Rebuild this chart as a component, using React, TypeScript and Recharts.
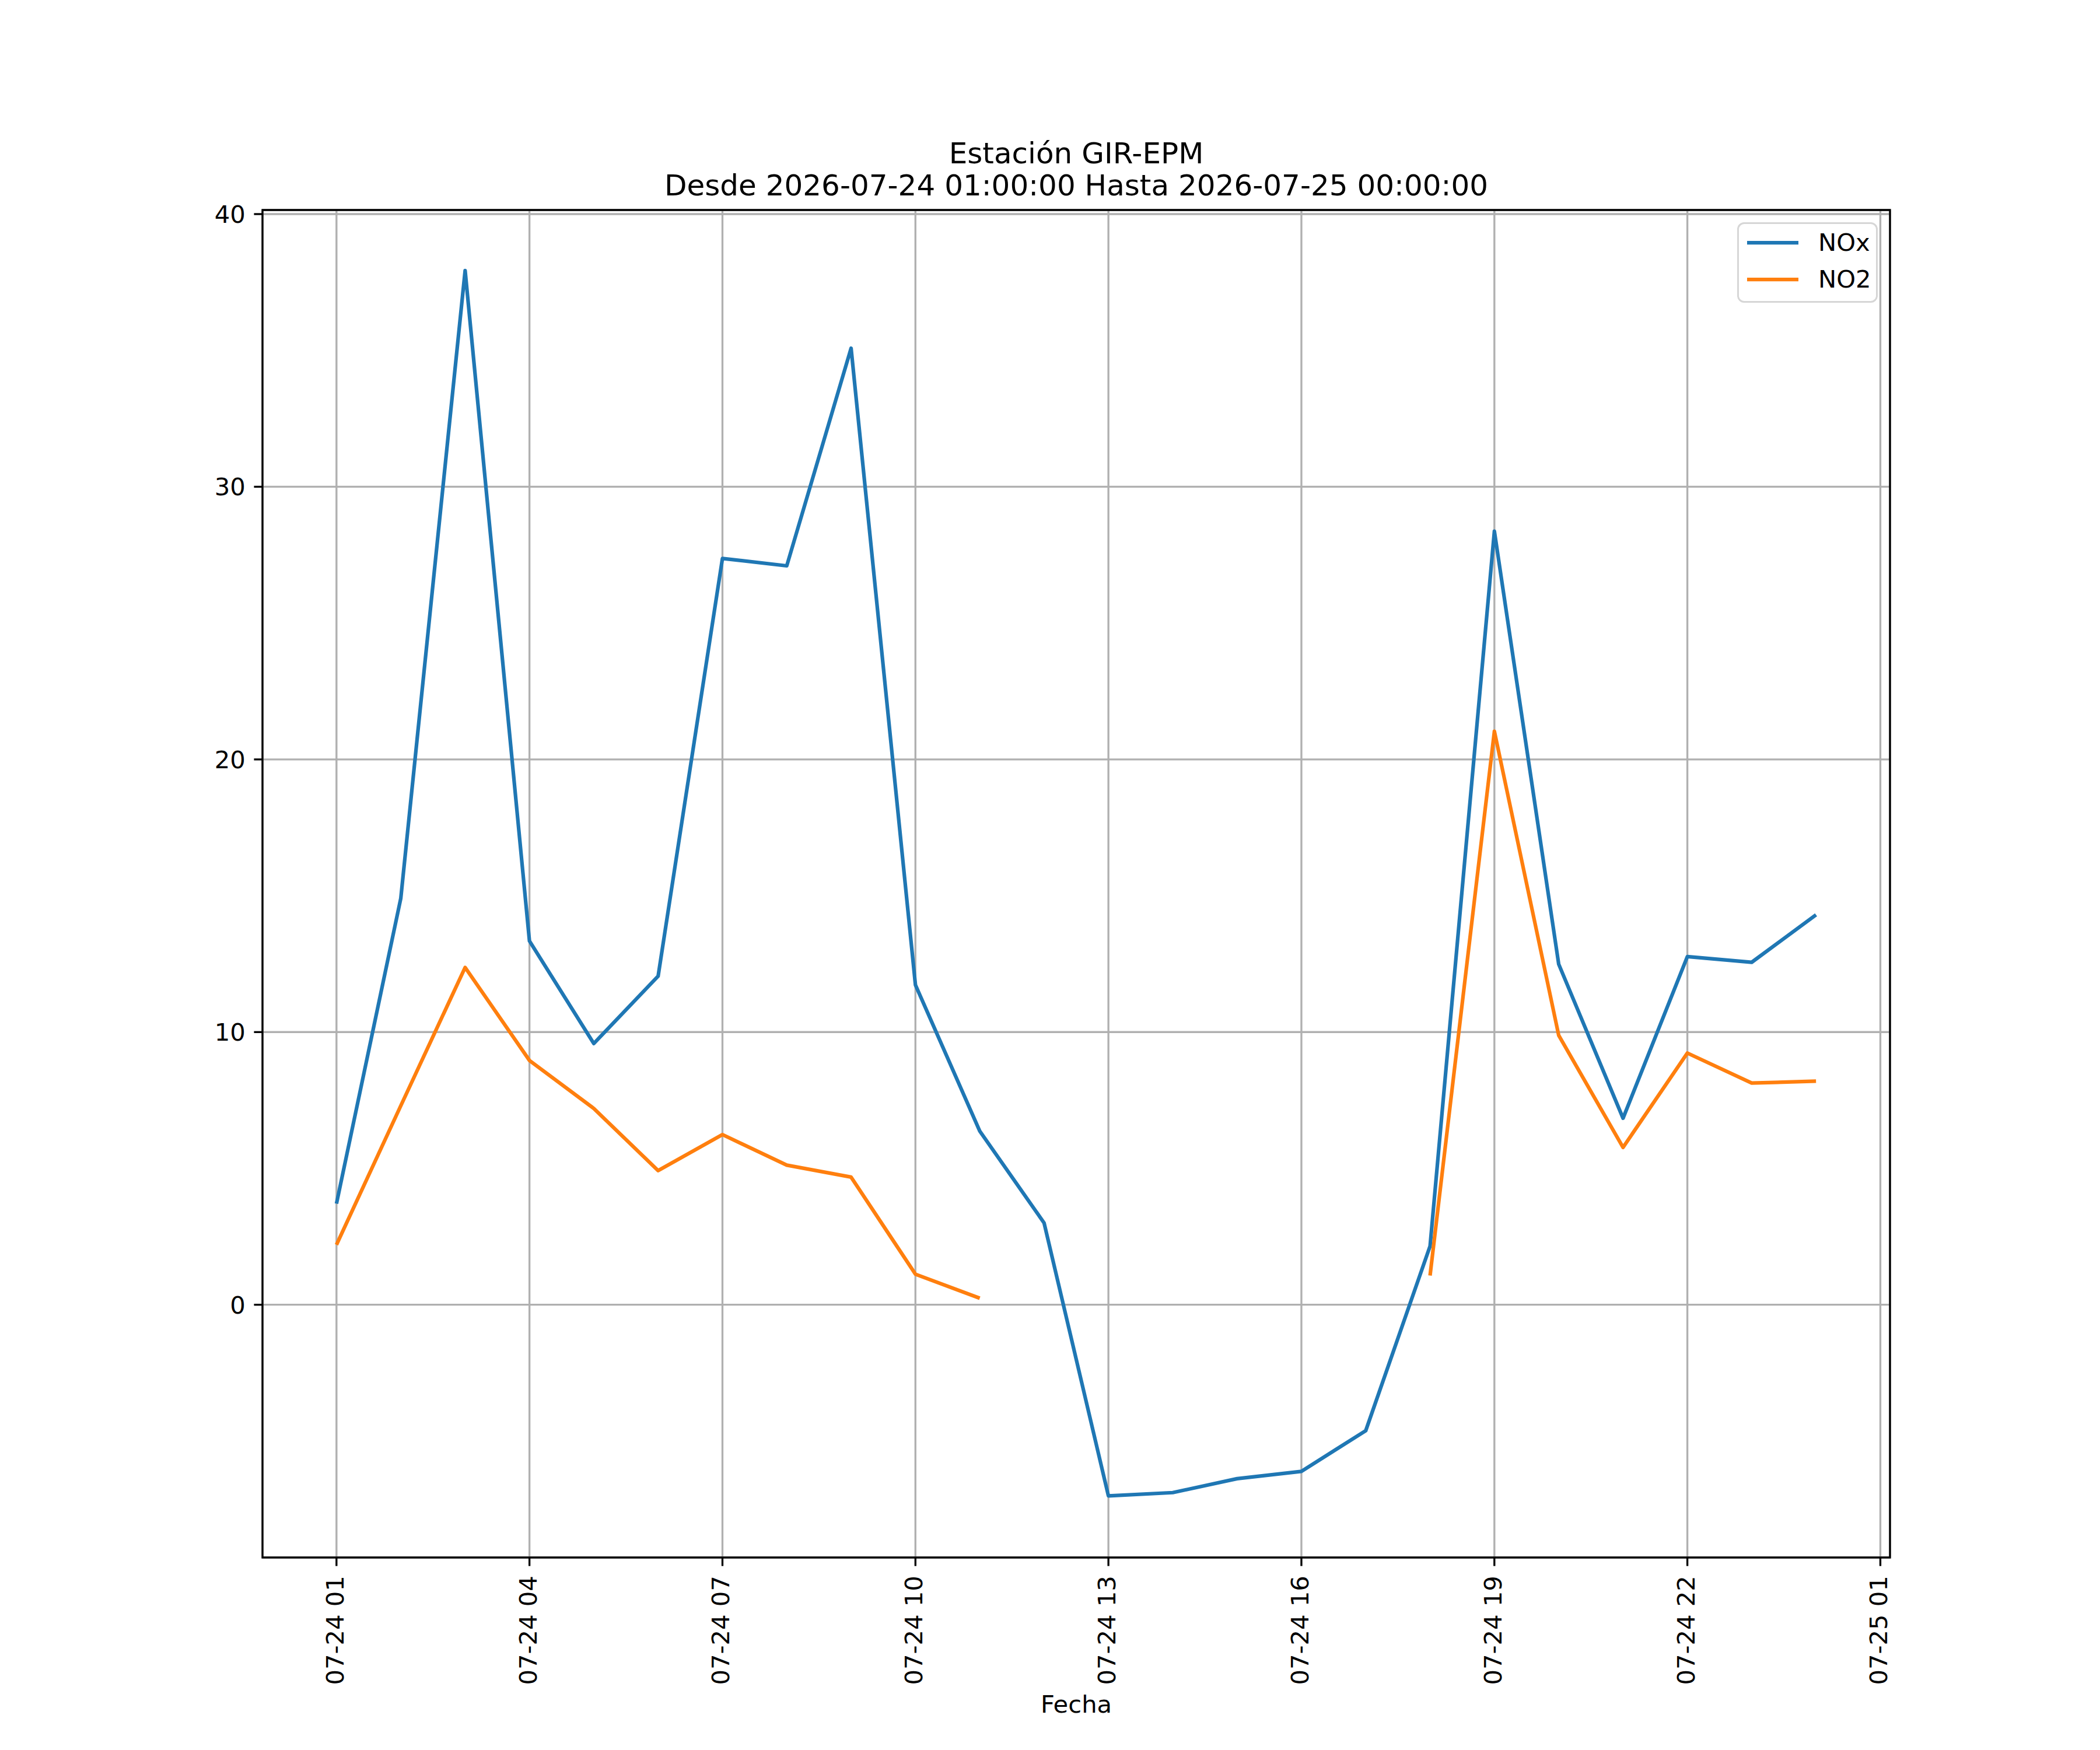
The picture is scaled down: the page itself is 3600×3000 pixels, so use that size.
import { LineChart, Line, XAxis, YAxis, CartesianGrid, Legend, ReferenceArea } from 'recharts';

// hours after 2026-07-24 01:00
const hourOffsets = [0, 1, 2, 3, 4, 5, 6, 7, 8, 9, 10, 11, 12, 13, 14, 15, 16, 17, 18, 19, 20, 21, 22, 23];

const noxValues = [
  3.71, 14.91, 37.93, 13.34, 9.58, 12.05, 27.37, 27.1, 35.08, 11.73, 6.37, 3.0,
  -7.01, -6.89, -6.38, -6.11, -4.62, 2.15, 28.37, 12.49, 6.84, 12.77, 12.56, 14.3,
];

const no2Values: (number | null)[] = [
  2.2, 7.3, 12.37, 8.96, 7.2, 4.92, 6.24, 5.12, 4.68, 1.12, 0.24, null,
  null, null, null, null, null, 1.07, 21.03, 9.88, 5.77, 9.23, 8.13, 8.2,
];

const xTicks = [0, 3, 6, 9, 12, 15, 18, 21, 24];
const xTickLabels = ['07-24 01', '07-24 04', '07-24 07', '07-24 10', '07-24 13', '07-24 16', '07-24 19', '07-24 22', '07-25 01'];
const yTicks = [0, 10, 20, 30, 40];

const seriesNames = ['NOx', 'NO2'];
const seriesColors = ['#1f77b4', '#ff7f0e'];

const title = 'Estación GIR-EPM';
const subtitle = 'Desde 2026-07-24 01:00:00 Hasta 2026-07-25 00:00:00';
const xLabel = 'Fecha';

const data = hourOffsets.map((h, i) => ({ h, NOx: noxValues[i], NO2: no2Values[i] }));

const FONT = '"DejaVu Sans", sans-serif';
const FS = 41.7;
const PT = 300 / 72;

const X_DOMAIN = [-1.15, 24.15];
const Y_DOMAIN = [-9.27, 40.15];

function XTick(props: any) {
  const { x, y, payload } = props;
  const idx = xTicks.indexOf(payload.value);
  return (
    <g transform={`translate(${x},${y + 2})`}>
      <text transform="rotate(-90)" x={0} y={12} textAnchor="end" fontFamily={FONT} fontSize={FS} fill="#000">
        {xTickLabels[idx]}
      </text>
    </g>
  );
}

function LegendBox() {
  return (
    <div
      style={{
        boxSizing: 'border-box',
        width: 241,
        height: 138,
        border: `${0.8 * PT}px solid rgba(204,204,204,0.8)`,
        borderRadius: 12,
        background: 'rgba(255,255,255,0.8)',
        paddingTop: 0,
      }}
    >
      {seriesNames.map((name, i) => (
        <div key={name} style={{ display: 'flex', alignItems: 'center', height: 63, marginLeft: 12 }}>
          <svg width={92} height={20}>
            <line x1={2} y1={10} x2={90} y2={10} stroke={seriesColors[i]} strokeWidth={1.5 * PT} />
          </svg>
          <span style={{ fontFamily: FONT, fontSize: FS, marginLeft: 32, lineHeight: 1 }}>{name}</span>
        </div>
      ))}
    </div>
  );
}

export default function App() {
  return (
    <div style={{ position: 'absolute', left: 0, top: 0, width: 3600, height: 3000, background: '#fff' }}>
      <LineChart width={3600} height={3000} data={data} margin={{ top: 360, right: 360, bottom: 230, left: 350 }}>
        <CartesianGrid stroke="#b0b0b0" strokeWidth={0.8 * PT} />
        <XAxis
          dataKey="h"
          type="number"
          domain={X_DOMAIN}
          ticks={xTicks}
          interval={0}
          allowDataOverflow
          height={100}
          axisLine={false}
          tickSize={3.5 * PT}
          tickMargin={3.5 * PT}
          tickLine={{ stroke: '#000', strokeWidth: 0.8 * PT }}
          tick={<XTick />}
        />
        <YAxis
          type="number"
          domain={Y_DOMAIN}
          ticks={yTicks}
          interval={0}
          allowDataOverflow
          width={100}
          axisLine={false}
          tickSize={3.5 * PT}
          tickMargin={3.5 * PT}
          tickLine={{ stroke: '#000', strokeWidth: 0.8 * PT }}
          tick={{ fontFamily: FONT, fontSize: FS, fill: '#000' }}
        />
        <Line
          dataKey="NOx"
          name="NOx"
          stroke={seriesColors[0]}
          strokeWidth={1.5 * PT}
          strokeLinejoin="round"
          dot={false}
          activeDot={false}
          isAnimationActive={false}
        />
        <Line
          dataKey="NO2"
          name="NO2"
          stroke={seriesColors[1]}
          strokeWidth={1.5 * PT}
          strokeLinejoin="round"
          dot={false}
          activeDot={false}
          connectNulls={false}
          isAnimationActive={false}
        />
        <ReferenceArea
          x1={X_DOMAIN[0]}
          x2={X_DOMAIN[1]}
          y1={Y_DOMAIN[0]}
          y2={Y_DOMAIN[1]}
          fill="none"
          stroke="#000"
          strokeWidth={0.8 * PT}
          strokeOpacity={1}
          fillOpacity={0}
        />
        <Legend
          layout="vertical"
          align="center"
          verticalAlign="middle"
          content={<LegendBox />}
          wrapperStyle={{ position: 'absolute', left: 2978, top: 381, width: 241, height: 138 }}
        />
      </LineChart>
      <svg width={3600} height={3000} style={{ position: 'absolute', left: 0, top: 0, pointerEvents: 'none' }}>
        <text x={1845} y={280} textAnchor="middle" fontFamily={FONT} fontSize={50} fill="#000">{title}</text>
        <text x={1845} y={335} textAnchor="middle" fontFamily={FONT} fontSize={50} fill="#000">{subtitle}</text>
        <text x={1845} y={2936} textAnchor="middle" fontFamily={FONT} fontSize={FS} fill="#000">{xLabel}</text>
      </svg>
    </div>
  );
}
